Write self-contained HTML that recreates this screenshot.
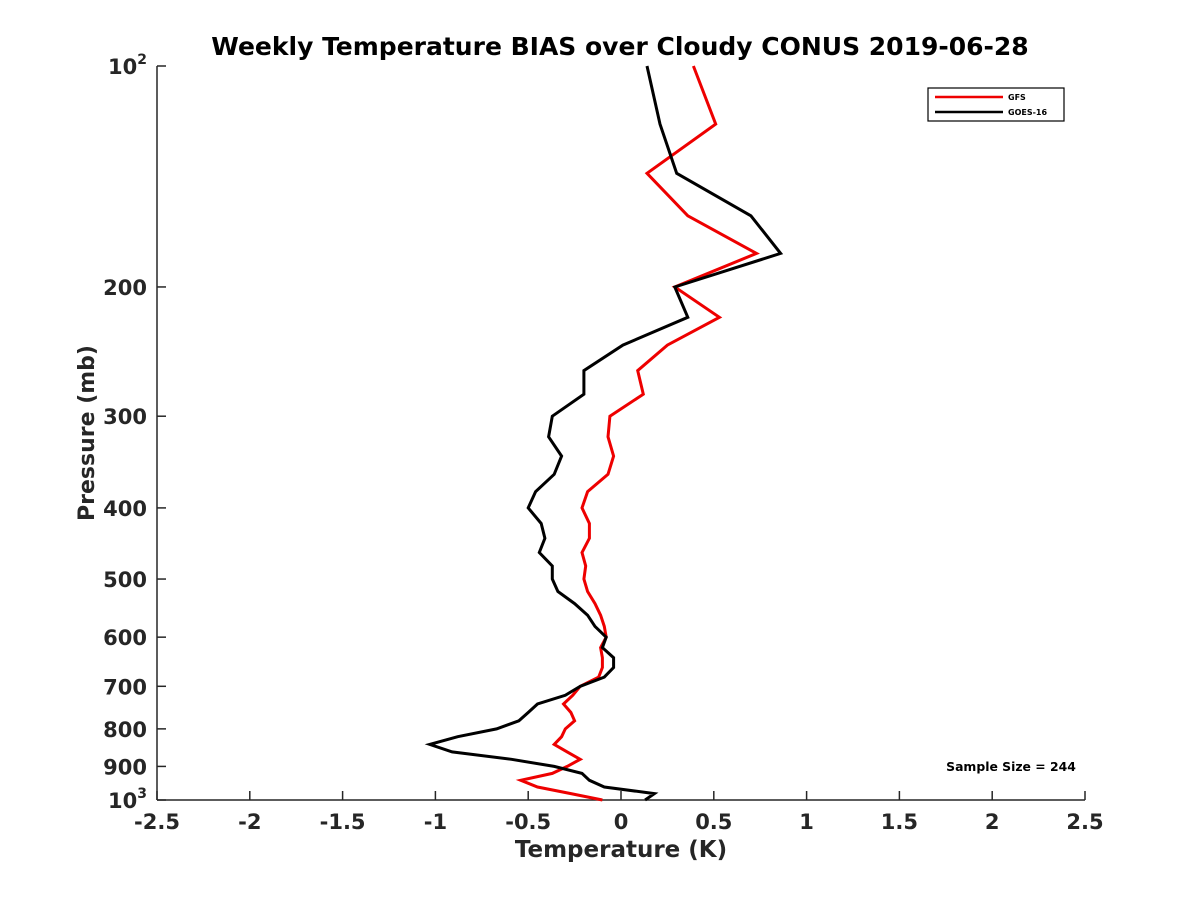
<!DOCTYPE html>
<html><head><meta charset="utf-8"><style>
body{margin:0;background:#fff}
svg{font-family:"DejaVu Sans","Liberation Sans",sans-serif;font-weight:bold}
</style></head><body>
<svg id="chart" width="1200" height="900" viewBox="0 0 1200 900">
<rect width="1200" height="900" fill="#fff"/>
<text x="620" y="55" text-anchor="middle" font-size="25" fill="#000">Weekly Temperature BIAS over Cloudy CONUS 2019-06-28</text>
<g id="axes"></g>
<g id="series"></g>
<text transform="translate(94,433) rotate(-90)" text-anchor="middle" font-size="22" fill="#262626">Pressure (mb)</text>
<text x="621" y="857" text-anchor="middle" font-size="23" fill="#262626">Temperature (K)</text>
<g>
<rect x="928" y="88" width="136" height="33" fill="#fff" stroke="#000" stroke-width="1.2"/>
<line x1="935" y1="97" x2="1003" y2="97" stroke="#e00" stroke-width="2.5"/>
<text x="1008" y="100" font-size="8">GFS</text>
<line x1="935" y1="112" x2="1003" y2="112" stroke="#000" stroke-width="2.5"/>
<text x="1008" y="115" font-size="8">GOES-16</text>
</g>
<text x="1011" y="771" text-anchor="middle" font-size="12.4" fill="#000">Sample Size = 244</text>
</svg>
<script>
const pressureLevels=[100,120,140,160,180,200,220,240,260,280,300,320,340,360,380,400,420,440,460,480,500,520,540,560,580,600,620,640,660,680,700,720,740,760,780,800,820,840,860,880,900,920,940,960,980,1000];
const gfsBias=[0.39,0.51,0.14,0.36,0.73,0.29,0.53,0.25,0.09,0.12,-0.06,-0.07,-0.04,-0.07,-0.18,-0.21,-0.17,-0.17,-0.21,-0.19,-0.20,-0.18,-0.14,-0.11,-0.09,-0.08,-0.11,-0.10,-0.10,-0.12,-0.22,-0.26,-0.31,-0.27,-0.25,-0.30,-0.32,-0.36,-0.29,-0.22,-0.29,-0.37,-0.54,-0.45,-0.27,-0.10];
const goesBias=[0.14,0.21,0.30,0.70,0.86,0.29,0.36,0.01,-0.20,-0.20,-0.37,-0.39,-0.32,-0.36,-0.46,-0.50,-0.43,-0.41,-0.44,-0.37,-0.37,-0.34,-0.25,-0.18,-0.14,-0.08,-0.10,-0.04,-0.04,-0.09,-0.22,-0.30,-0.45,-0.50,-0.55,-0.67,-0.88,-1.03,-0.91,-0.59,-0.36,-0.21,-0.17,-0.09,0.18,0.13];
const xTicks=[-2.5,-2,-1.5,-1,-0.5,0,0.5,1,1.5,2,2.5];
const xTickLabels=["-2.5","-2","-1.5","-1","-0.5","0","0.5","1","1.5","2","2.5"];
const yTicks=[100,200,300,400,500,600,700,800,900,1000];
const yTickLabels=["10|2","200","300","400","500","600","700","800","900","10|3"];
const NS="http://www.w3.org/2000/svg";
const L=157,R=1085,T=66,B=800;
function xs(v){return L+(v+2.5)/5*(R-L);}
function ys(p){return T+Math.log10(p/100)*(B-T);}
function mk(tag,attrs,parent){const e=document.createElementNS(NS,tag);for(const k in attrs)e.setAttribute(k,attrs[k]);parent.appendChild(e);return e;}
const ax=document.getElementById('axes');
let e=mk('line',{x1:L,y1:B,x2:R,y2:B,stroke:'#262626','stroke-width':1.5},ax);


e=mk('line',{x1:L,y1:T,x2:L,y2:B,stroke:'#262626','stroke-width':1.5},ax);


xTicks.forEach((v,i)=>{
  const x=xs(v);
  let t=mk('line',{x1:x,y1:B,x2:x,y2:B-9,stroke:'#262626','stroke-width':1.5},ax);
  
  
  let tx=mk('text',{x:x,y:B+29,'text-anchor':'middle','font-size':21,fill:'#262626'},ax);
  tx.textContent=xTickLabels[i];
  
  
});
yTicks.forEach((p,i)=>{
  const y=ys(p);
  let t=mk('line',{x1:L,y1:y,x2:L+9,y2:y,stroke:'#262626','stroke-width':1.5},ax);
  
  
  const lab=yTickLabels[i];
  let tx=mk('text',{x:L-10,y:y+8,'text-anchor':'end','font-size':21,fill:'#262626'},ax);
  if(lab.indexOf('|')>=0){
    const parts=lab.split('|');
    tx.textContent=parts[0];
    const s=mk('tspan',{'font-size':14,dy:-10},tx);
    s.textContent=parts[1];
  } else tx.textContent=lab;
  
  
});
const sg=document.getElementById('series');
function line(vals,color,name){
  const pts=vals.map((v,i)=>xs(v).toFixed(1)+','+ys(pressureLevels[i]).toFixed(1)).join(' ');
  const pl=mk('polyline',{points:pts,fill:'none',stroke:color,'stroke-width':3,'stroke-linejoin':'miter'},sg);
  
  
}
line(gfsBias,'#e00','gfs-line');
line(goesBias,'#000','goes16-line');
</script>
</body></html>
